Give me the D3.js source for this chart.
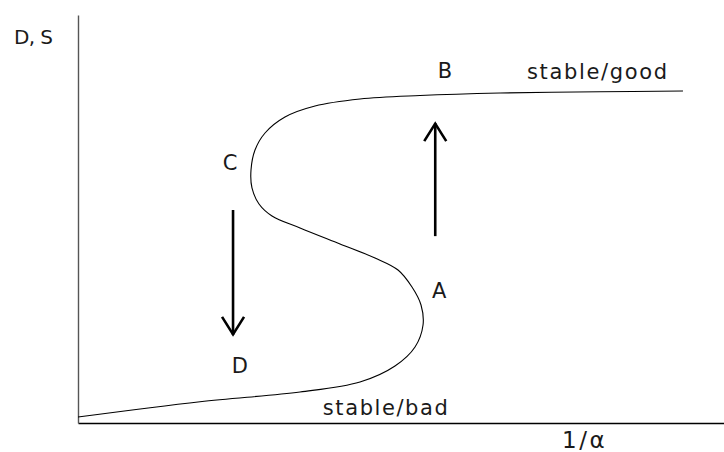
<!DOCTYPE html>
<html>
<head>
<meta charset="utf-8">
<script src="https://cdn.jsdelivr.net/npm/d3@7"></script>
<style>
  html, body { margin: 0; padding: 0; background: #fff; }
  svg { display: block; }
  text { font-family: "DejaVu Sans", sans-serif; fill: #1a1a1a; }
</style>
</head>
<body>
<svg id="chart" width="724" height="452"></svg>
<script>
// Data (abstract units: x 0..100, y 0..100)
const curveX = [0, 18.89, 34.37, 43.65, 49.07, 52.17, 53.41, 53.1, 51.7, 49.54, 45.98, 40.56, 34.37, 30.03, 28.02, 26.93, 26.78, 27.40, 28.95, 32.04, 36.69, 43.65, 52.94, 65.33, 80.80, 93.65];
const curveY = [1.47, 5.22, 7.60, 10.05, 13.97, 18.63, 24.02, 28.92, 33.33, 37.50, 40.44, 43.87, 47.79, 50.74, 53.68, 57.60, 62.01, 66.91, 71.08, 75.0, 77.70, 79.41, 80.27, 80.88, 81.18, 81.37];
const arrows = [
  { name: "up",   x: 55.3, y0: 45.8, y1: 73.5 },
  { name: "down", x: 24.0, y0: 52.2, y1: 21.6 }
];
const pointLabels = ["A", "B", "C", "D"];
const pointLabelX = [54.8, 55.7, 22.4, 23.8];
const pointLabelY = [30.6, 84.6, 62.0, 12.3];
const regionLabels = ["stable/good", "stable/bad"];
const regionLabelX = [69.5, 37.9];
const regionLabelY = [84.3, 2.0];
const regionLabelW = [140, 125];
const xAxisTitle = "1/\u03B1";
const yAxisTitle = "D, S";

const svg = d3.select("#chart");
const x = d3.scaleLinear().domain([0, 100]).range([78, 724]);
const y = d3.scaleLinear().domain([0, 100]).range([423, 15]);

// Axes (no ticks)
svg.append("g")
  .attr("transform", `translate(0,${y(0)})`)
  .call(d3.axisBottom(x).tickValues([]).tickSizeOuter(0))
  .call(g => g.select(".domain").attr("stroke", "#000").attr("stroke-width", 1.6));
svg.append("g")
  .attr("transform", `translate(${x(0)},0)`)
  .call(d3.axisLeft(y).tickValues([]).tickSizeOuter(0))
  .call(g => g.select(".domain").attr("stroke", "#555").attr("stroke-width", 1.4));

// S-curve
const pts = curveX.map((v, i) => [v, curveY[i]]);
svg.append("path")
  .datum(pts)
  .attr("fill", "none")
  .attr("stroke", "#000")
  .attr("stroke-width", 1.1)
  .attr("d", d3.line().x(d => x(d[0])).y(d => y(d[1])).curve(d3.curveCatmullRom.alpha(0.5)));

// Arrows
arrows.forEach(a => {
  const px = x(a.x), p0 = y(a.y0), p1 = y(a.y1);
  const dir = p1 < p0 ? 1 : -1; // 1 = pointing up
  svg.append("line")
    .attr("x1", px).attr("x2", px).attr("y1", p0).attr("y2", p1)
    .attr("stroke", "#000").attr("stroke-width", 2.6);
  svg.append("path")
    .attr("d", `M${px - 11},${p1 + dir * 18} L${px},${p1 + dir * 0.5} L${px + 11},${p1 + dir * 18}`)
    .attr("fill", "none").attr("stroke", "#000").attr("stroke-width", 2.6)
    .attr("stroke-linejoin", "miter");
});

// Labels
pointLabels.forEach((t, i) => {
  svg.append("text").attr("x", x(pointLabelX[i])).attr("y", y(pointLabelY[i]))
    .attr("font-size", 21).text(t);
});
regionLabels.forEach((t, i) => {
  svg.append("text").attr("x", x(regionLabelX[i])).attr("y", y(regionLabelY[i]))
    .attr("font-size", 21).attr("textLength", regionLabelW[i])
    .attr("lengthAdjust", "spacing").text(t);
});
svg.append("text").attr("x", 562).attr("y", 448).attr("font-size", 23)
  .attr("letter-spacing", 2.5).text(xAxisTitle);
svg.append("text").attr("x", 14).attr("y", 44).attr("font-size", 20)
  .attr("textLength", 39).attr("lengthAdjust", "spacing").text(yAxisTitle);
</script>
</body>
</html>
